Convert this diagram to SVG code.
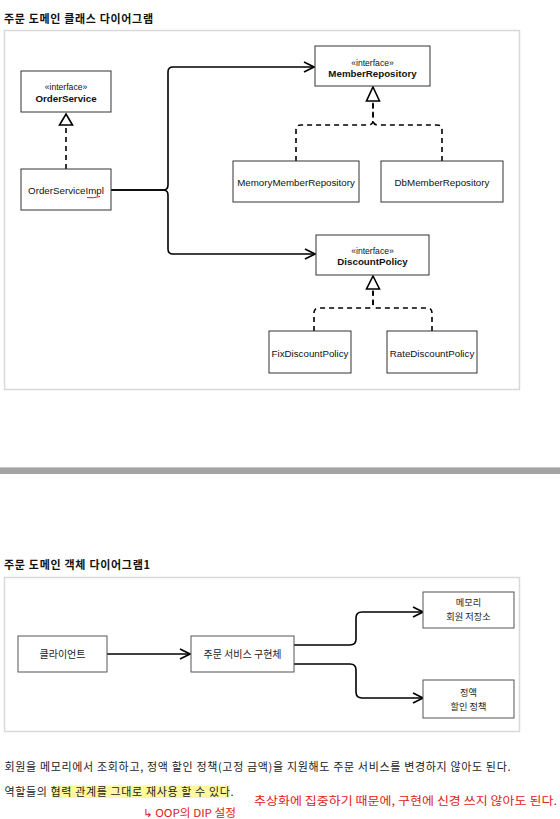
<svg xmlns="http://www.w3.org/2000/svg" width="560" height="819" viewBox="0 0 560 819">
<style>
  .title{font-family:"Noto Sans CJK KR","Noto Sans",sans-serif;font-size:11px;font-weight:bold;fill:#111}
  .frame{fill:#fff;stroke:#d9d9d9;stroke-width:1.5}
  .box{fill:#fff;stroke:#333;stroke-width:1}
  .lt{font-family:"Liberation Sans",Arial,sans-serif;font-size:9.75px;fill:#111;text-anchor:middle}
  .st{font-family:"Liberation Sans",Arial,sans-serif;font-size:8.6px;fill:#111;text-anchor:middle}
  .bt{font-family:"Liberation Sans",Arial,sans-serif;font-size:9.75px;font-weight:bold;fill:#111;text-anchor:middle}
  .kt{font-family:"Noto Sans CJK KR","Noto Sans",sans-serif;font-size:9.2px;fill:#222;text-anchor:middle}
  .kb{font-family:"Noto Sans CJK KR","Noto Sans",sans-serif;font-size:10px;fill:#222;text-anchor:middle}
  .body{font-family:"Noto Sans CJK KR","Noto Sans",sans-serif;font-size:11px;fill:#222}
  .hand{font-family:"Noto Sans CJK KR","Noto Sans",sans-serif;font-size:11px;fill:#e0201a}
  .solid{fill:none;stroke:#000;stroke-width:1.6}
  .dash{fill:none;stroke:#000;stroke-width:1.6;stroke-dasharray:5 4}
  .tri{fill:#fff;stroke:#000;stroke-width:1.6}
</style>
<defs>
  <marker id="open" viewBox="0 0 12 12" refX="11" refY="6" markerWidth="12" markerHeight="12" markerUnits="userSpaceOnUse" orient="auto">
    <path d="M1 1 L11 6 L1 11" fill="none" stroke="#000" stroke-width="1.6"/>
  </marker>
</defs>
<rect width="560" height="819" fill="#fff"/>

<!-- Frames and titles -->
<text class="title" x="4" y="22.5" textLength="149">주문 도메인 클래스 다이어그램</text>
<rect class="frame" x="4.5" y="30.5" width="515" height="359"/>
<rect x="0" y="467" width="560" height="1" fill="#c8c8c8"/>
<rect x="0" y="468" width="560" height="6" fill="#a3a3a3"/>
<text class="title" x="4" y="569" textLength="146">주문 도메인 객체 다이어그램1</text>
<rect class="frame" x="4.5" y="577.5" width="515" height="154"/>

<g id="connectors">
  <path class="solid" d="M111 190 H163 Q168 190 168 185 V72 Q168 67 173 67 H314" marker-end="url(#open)"/>
  <path class="solid" d="M111 190 H163 Q168 190 168 195 V249 Q168 254 173 254 H315" marker-end="url(#open)"/>
  <path class="dash" d="M66 169 V125"/>
  <path class="tri" d="M66 114 L72.5 125 L59.5 125 Z"/>
  <path class="dash" d="M296 161 V130 Q296 125 301 125 H368 Q373 125 373 120 V101"/>
  <path class="dash" d="M442 161 V130 Q442 125 437 125 H378 Q373 125 373 120 V101"/>
  <path class="tri" d="M373 87 L379.5 101 L366.5 101 Z"/>
  <path class="dash" d="M314 331 V313 Q314 308 319 308 H368 Q373 308 373 303 V289"/>
  <path class="dash" d="M432 331 V313 Q432 308 427 308 H378 Q373 308 373 303 V289"/>
  <path class="tri" d="M373 276 L379.5 289 L366.5 289 Z"/>
  <path class="solid" d="M107 654 H190" marker-end="url(#open)"/>
  <path class="solid" d="M294 645 H350 Q356 645 356 639 V618 Q356 612 362 612 H423" marker-end="url(#open)"/>
  <path class="solid" d="M294 664 H350 Q356 664 356 670 V692 Q356 698 362 698 H423" marker-end="url(#open)"/>
</g>

<g id="OrderService">
  <rect class="box" x="21" y="71" width="90" height="41"/>
  <text class="st" x="66" y="90">«interface»</text>
  <text class="bt" x="66" y="101.5">OrderService</text>
</g>
<g id="OrderServiceImpl">
  <rect class="box" x="21" y="169" width="90" height="41"/>
  <text class="lt" x="66" y="193.5">OrderServiceImpl</text>
  <path d="M87 197.5 Q93 198.5 100 196.5" fill="none" stroke="#e0201a" stroke-width="1"/>
</g>
<g id="MemberRepository">
  <rect class="box" x="315" y="46" width="115" height="40"/>
  <text class="st" x="372.5" y="65.5">«interface»</text>
  <text class="bt" x="372.5" y="77">MemberRepository</text>
</g>
<g id="MemoryMemberRepository">
  <rect class="box" x="233" y="161" width="126" height="41"/>
  <text class="lt" x="296" y="185.8">MemoryMemberRepository</text>
</g>
<g id="DbMemberRepository">
  <rect class="box" x="381" y="161" width="122" height="41"/>
  <text class="lt" x="442" y="185.8">DbMemberRepository</text>
</g>
<g id="DiscountPolicy">
  <rect class="box" x="316" y="235" width="113" height="40"/>
  <text class="st" x="372.5" y="253.5">«interface»</text>
  <text class="bt" x="372.5" y="265">DiscountPolicy</text>
</g>
<g id="FixDiscountPolicy">
  <rect class="box" x="269" y="331" width="82" height="42"/>
  <text class="lt" x="310" y="356.5">FixDiscountPolicy</text>
</g>
<g id="RateDiscountPolicy">
  <rect class="box" x="387" y="331" width="90" height="42"/>
  <text class="lt" x="432" y="356.5">RateDiscountPolicy</text>
</g>

<g id="Client">
  <rect class="box" x="18" y="636" width="89" height="36" style="stroke:#555"/>
  <text class="kb" x="62.5" y="657.5">클라이언트</text>
</g>
<g id="OrderServiceObj">
  <rect class="box" x="191" y="636" width="103" height="36" style="stroke:#555"/>
  <text class="kb" x="242.5" y="657.5">주문 서비스 구현체</text>
</g>
<g id="MemoryRepo">
  <rect class="box" x="423" y="592" width="91" height="36" style="stroke:#555"/>
  <text class="kt" x="468.5" y="606">메모리</text>
  <text class="kt" x="468.5" y="619.5">회원 저장소</text>
</g>
<g id="FixDiscount">
  <rect class="box" x="423" y="680" width="91" height="38" style="stroke:#555"/>
  <text class="kt" x="468.5" y="696">정액</text>
  <text class="kt" x="468.5" y="709.5">할인 정책</text>
</g>

<!-- Body text -->
<text class="body" x="4.5" y="771" textLength="506">회원을 메모리에서 조회하고, 정액 할인 정책(고정 금액)을 지원해도 주문 서비스를 변경하지 않아도 된다.</text>
<rect x="52" y="785.5" width="178" height="12.5" fill="#fdf8a0"/>
<text class="body" x="4.5" y="796" textLength="229">역할들의 협력 관계를 그대로 재사용 할 수 있다.</text>

<!-- Handwritten annotations -->
<text class="hand" x="143" y="817" textLength="93" lengthAdjust="spacingAndGlyphs">↳ OOP의 DIP 설정</text>
<text class="hand" x="254" y="805" textLength="303" lengthAdjust="spacingAndGlyphs">추상화에 집중하기 때문에, 구현에 신경 쓰지 않아도 된다.</text>
</svg>
